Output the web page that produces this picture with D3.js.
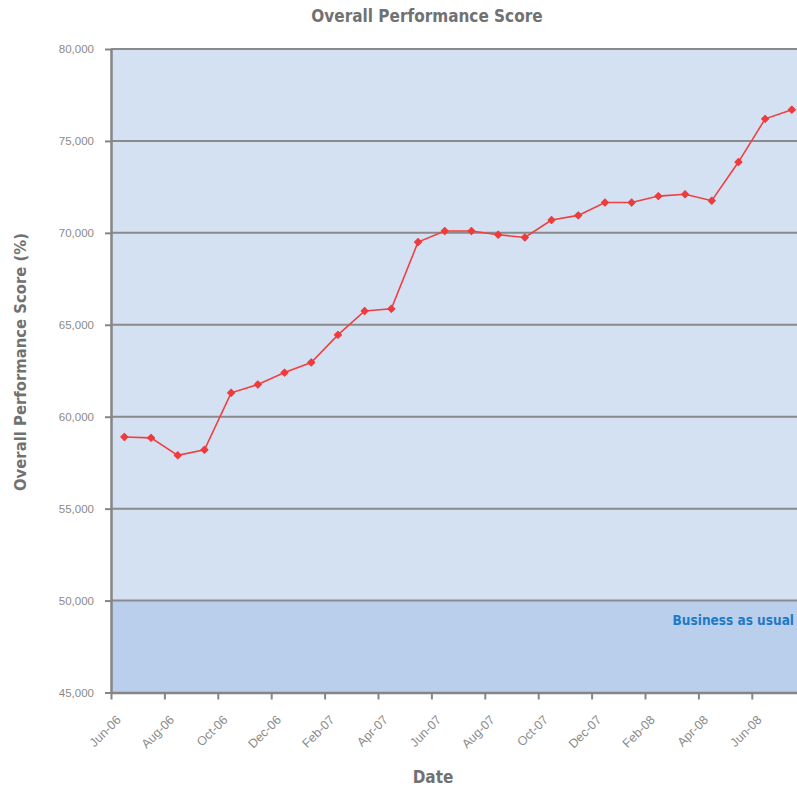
<!DOCTYPE html>
<html>
<head>
<meta charset="utf-8">
<script src="https://cdn.jsdelivr.net/npm/d3@7"></script>
<style>
  body { margin: 0; background: #fff; }
  svg { display: block; font-family: "DejaVu Sans Condensed", "DejaVu Sans", sans-serif; }
</style>
</head>
<body>
<svg id="chart" width="797" height="787"></svg>
<script>
const months = [
  "Jun-06", "Jul-06", "Aug-06", "Sep-06", "Oct-06", "Nov-06", "Dec-06",
  "Jan-07", "Feb-07", "Mar-07", "Apr-07", "May-07", "Jun-07", "Jul-07",
  "Aug-07", "Sep-07", "Oct-07", "Nov-07", "Dec-07", "Jan-08", "Feb-08",
  "Mar-08", "Apr-08", "May-08", "Jun-08", "Jul-08"
];
const scores = [
  58900, 58850, 57900, 58200, 61300, 61750, 62400, 62950, 64450, 65750,
  65870, 69500, 70100, 70100, 69900, 69750, 70700, 70950, 71650, 71650,
  72000, 72100, 71750, 73850, 76200, 76700
];
const yTicks = [45000, 50000, 55000, 60000, 65000, 70000, 75000, 80000];
const bandFrom = 45000, bandTo = 50000, bandLabel = "Business as usual";

const svg = d3.select("#chart");
const plotL = 111, plotT = 49, plotB = 692.5;
const plotR = plotL + months.length * 26.7;

const x = d3.scaleLinear().domain([0, months.length]).range([plotL, plotR]);
const y = d3.scaleLinear().domain([45000, 80000]).range([plotB, plotT]);
const fmt = d3.format(",");

// background + lower band
svg.append("rect")
  .attr("x", plotL).attr("y", plotT)
  .attr("width", plotR - plotL).attr("height", plotB - plotT)
  .attr("fill", "#d4e1f3");
svg.append("rect")
  .attr("x", plotL).attr("y", y(bandTo))
  .attr("width", plotR - plotL).attr("height", y(bandFrom) - y(bandTo))
  .attr("fill", "#bacfeb");

// gridlines
svg.append("g")
  .selectAll("line")
  .data(yTicks.filter(d => d > 45000))
  .join("line")
  .attr("x1", plotL).attr("x2", plotR)
  .attr("y1", d => y(d)).attr("y2", d => y(d))
  .attr("stroke", "#8a8a8a").attr("stroke-width", 2);

// axes
const yAxis = svg.append("g")
  .attr("transform", `translate(${plotL},0)`)
  .call(d3.axisLeft(y).tickValues(yTicks).tickFormat(fmt).tickSize(6).tickSizeOuter(0));
const xAxis = svg.append("g")
  .attr("transform", `translate(0,${plotB})`)
  .call(d3.axisBottom(x).tickValues(d3.range(0, months.length, 2))
    .tickFormat(i => months[i]).tickSize(7).tickSizeOuter(0));

[yAxis, xAxis].forEach(g => {
  g.select(".domain").attr("stroke", "#858585").attr("stroke-width", 2.5);
  g.selectAll(".tick line").attr("stroke", "#858585").attr("stroke-width", 2);
  g.selectAll(".tick text").attr("fill", "#8a8a8a").style("font-size", "11.5px");
});
yAxis.selectAll(".tick text").attr("x", -17);
xAxis.selectAll(".tick text")
  .attr("text-anchor", "end")
  .attr("dy", "0.35em")
  .attr("transform", "translate(7,25) rotate(-45)")
  .style("font-size", "12.5px")
  .attr("y", 0).attr("x", 0);

// series
const cx = (d, i) => x(i + 0.5);
svg.append("path")
  .datum(scores)
  .attr("fill", "none")
  .attr("stroke", "#ef4040")
  .attr("stroke-width", 1.6)
  .attr("d", d3.line().x(cx).y(d => y(d)));
svg.append("g")
  .selectAll("path")
  .data(scores)
  .join("path")
  .attr("d", d3.symbol(d3.symbolSquare, 26))
  .attr("transform", (d, i) => `translate(${cx(d, i)},${y(d)}) rotate(45)`)
  .attr("fill", "#ef3b3b")
  .attr("stroke", "#ef3b3b").attr("stroke-width", 1).attr("stroke-linejoin", "round");

// labels
svg.append("text")
  .attr("x", 794).attr("y", 625)
  .attr("text-anchor", "end")
  .attr("fill", "#1f7ac6")
  .style("font-size", "13.5px").style("font-weight", "bold")
  .text(bandLabel);
svg.append("text")
  .attr("x", 427).attr("y", 22)
  .attr("text-anchor", "middle")
  .attr("fill", "#717171")
  .style("font-size", "17px").style("font-weight", "bold")
  .text("Overall Performance Score");
svg.append("text")
  .attr("transform", "translate(26,362) rotate(-90)")
  .attr("text-anchor", "middle")
  .attr("fill", "#717171")
  .style("font-size", "16.5px").style("font-weight", "bold")
  .text("Overall Performance Score (%)");
svg.append("text")
  .attr("x", 433).attr("y", 783)
  .attr("text-anchor", "middle")
  .attr("fill", "#717171")
  .style("font-size", "17px").style("font-weight", "bold")
  .text("Date");
</script>
</body>
</html>
